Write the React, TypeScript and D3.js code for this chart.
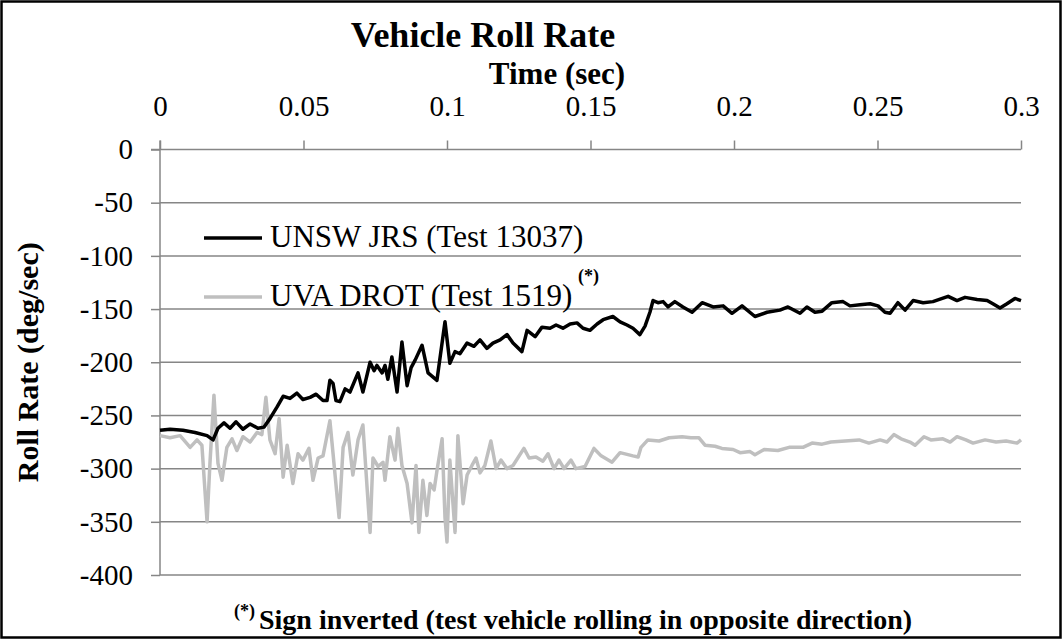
import React, { useEffect, useRef } from "react";
import * as d3 from "d3";

// UNSW JRS (Test 13037)
const unswTime = [0, 0.0035, 0.008, 0.0122, 0.0164, 0.0185, 0.0202, 0.0223, 0.0244, 0.0265, 0.0289, 0.0314, 0.0341, 0.0362, 0.0383, 0.0408, 0.0429, 0.0453, 0.0477, 0.0498, 0.0523, 0.0544, 0.0568, 0.0582, 0.0592, 0.0603, 0.0613, 0.0627, 0.0645, 0.0662, 0.069, 0.0707, 0.0732, 0.0746, 0.0756, 0.0774, 0.0784, 0.0794, 0.0808, 0.0826, 0.0843, 0.0861, 0.0875, 0.0889, 0.0913, 0.0934, 0.0965, 0.0993, 0.101, 0.1028, 0.1045, 0.107, 0.1094, 0.1115, 0.1139, 0.116, 0.1185, 0.1209, 0.123, 0.1261, 0.1279, 0.1307, 0.1331, 0.1359, 0.138, 0.1404, 0.1429, 0.1453, 0.1474, 0.1498, 0.1523, 0.1544, 0.1578, 0.1603, 0.1627, 0.1648, 0.1672, 0.169, 0.1707, 0.1718, 0.1735, 0.1753, 0.177, 0.1794, 0.1822, 0.1854, 0.1889, 0.1927, 0.1962, 0.1993, 0.2028, 0.2073, 0.2115, 0.216, 0.2188, 0.223, 0.2254, 0.2282, 0.2307, 0.2341, 0.238, 0.2404, 0.2439, 0.2474, 0.2502, 0.2526, 0.2544, 0.2571, 0.2596, 0.2624, 0.2659, 0.2693, 0.2746, 0.2777, 0.2805, 0.2847, 0.2882, 0.2902, 0.2927, 0.2951, 0.2979, 0.3];
const unswRate = [-264, -263, -264, -266, -269, -273, -262, -257, -262, -256, -263, -258, -262, -261, -253, -242, -232, -234, -229, -235, -233, -230, -236, -236, -217, -220, -236, -237, -225, -228, -210, -228, -200, -208, -203, -210, -203, -216, -195, -228, -181, -222, -205, -198, -184, -210, -217, -162, -201, -190, -192, -182, -185, -179, -187, -182, -179, -174, -182, -190, -170, -176, -167, -168, -165, -168, -164, -163, -168, -170, -164, -160, -157, -162, -165, -168, -174, -166, -153, -142, -144, -143, -148, -143, -148, -153, -144, -148, -147, -154, -147, -157, -153, -151, -148, -154, -148, -153, -152, -144, -143, -147, -146, -145, -147, -153, -154, -144, -151, -142, -144, -143, -138, -142, -139, -141, -142, -145, -149, -145, -140, -142];

// UVA DROT (Test 1519), sign inverted
const uvaTime = [0, 0.0035, 0.007, 0.0105, 0.0129, 0.0146, 0.0164, 0.0174, 0.0188, 0.0202, 0.0216, 0.0233, 0.0251, 0.0268, 0.0289, 0.0314, 0.0338, 0.0355, 0.0369, 0.0383, 0.0401, 0.0415, 0.0429, 0.0443, 0.0463, 0.0481, 0.0498, 0.0519, 0.0533, 0.0551, 0.0568, 0.0592, 0.0603, 0.0624, 0.0638, 0.0655, 0.0672, 0.069, 0.0707, 0.0732, 0.0742, 0.076, 0.0777, 0.0784, 0.0801, 0.0819, 0.0829, 0.0843, 0.0861, 0.0878, 0.0892, 0.0902, 0.0916, 0.093, 0.0941, 0.0955, 0.0965, 0.0983, 0.0993, 0.1, 0.101, 0.1028, 0.1038, 0.1056, 0.107, 0.1087, 0.1101, 0.1115, 0.1132, 0.1153, 0.1171, 0.1188, 0.1209, 0.123, 0.1268, 0.1286, 0.131, 0.1334, 0.1352, 0.1373, 0.139, 0.1408, 0.1432, 0.1449, 0.1481, 0.1512, 0.1537, 0.1575, 0.1603, 0.1648, 0.1666, 0.1676, 0.17, 0.1739, 0.1774, 0.1819, 0.185, 0.1878, 0.1899, 0.1934, 0.1958, 0.1997, 0.2021, 0.2056, 0.2073, 0.2105, 0.2153, 0.2192, 0.224, 0.2272, 0.2307, 0.2338, 0.2387, 0.2436, 0.247, 0.2509, 0.2533, 0.2557, 0.2582, 0.2613, 0.2631, 0.2662, 0.2686, 0.2728, 0.2753, 0.2777, 0.2808, 0.2833, 0.2875, 0.2913, 0.2948, 0.2986, 0.3];
const uvaRate = [-269, -271, -269, -280, -273, -278, -350, -295, -231, -295, -311, -280, -272, -283, -270, -275, -266, -268, -233, -273, -286, -253, -308, -278, -314, -286, -292, -281, -311, -290, -288, -255, -286, -346, -280, -266, -306, -273, -259, -360, -290, -298, -294, -311, -270, -292, -262, -297, -314, -351, -297, -360, -311, -344, -314, -320, -302, -272, -346, -369, -292, -360, -269, -333, -306, -297, -290, -304, -297, -274, -300, -292, -300, -297, -281, -290, -289, -293, -286, -300, -292, -300, -292, -300, -298, -281, -288, -294, -285, -288, -289, -280, -273, -274, -271, -270, -271, -271, -278, -279, -281, -282, -285, -284, -287, -282, -283, -280, -280, -276, -277, -275, -274, -273, -276, -273, -275, -268, -272, -275, -278, -270, -273, -272, -275, -270, -273, -276, -273, -275, -274, -276, -273];

const xTicks = [0, 0.05, 0.1, 0.15, 0.2, 0.25, 0.3];
const yTicks = [0, -50, -100, -150, -200, -250, -300, -350, -400];
const seriesNames = ["UNSW JRS (Test 13037)", "UVA DROT (Test 1519)"];
const seriesColors = ["#000000", "#bfbfbf"];

const FONT = "'Liberation Serif', 'Times New Roman', serif";

const App = () => {
    const svgRef = useRef(null);

    useEffect(() => {
        const width = 1062, height = 639;
        const left = 160, right = 1021, top = 149.5, bottom = 575;

        const svg = d3.select(svgRef.current)
            .attr("width", width)
            .attr("height", height);

        svg.selectAll("*").remove();

        svg.append("rect")
            .attr("x", 1.5).attr("y", 1.5)
            .attr("width", width - 3).attr("height", height - 3)
            .attr("fill", "#fff")
            .attr("stroke", "#000")
            .attr("stroke-width", 2.5);

        const x = d3.scaleLinear().domain([0, 0.3]).range([left, right]);
        const y = d3.scaleLinear().domain([0, -400]).range([top, bottom]);

        // gridlines
        svg.append("g")
            .selectAll("line")
            .data(yTicks.slice(1))
            .enter()
            .append("line")
            .attr("x1", left).attr("x2", right)
            .attr("y1", d => y(d)).attr("y2", d => y(d))
            .attr("stroke", "#868686")
            .attr("stroke-width", 1.5);

        // y axis
        const yAxis = svg.append("g")
            .attr("transform", `translate(${left},0)`)
            .call(d3.axisLeft(y).tickValues(yTicks).tickSize(9));
        yAxis.select(".domain").attr("stroke", "#868686").attr("stroke-width", 1.5)
            .attr("d", `M0,${top - 9}V${bottom}`);
        yAxis.selectAll(".tick line").attr("stroke", "#868686").attr("stroke-width", 1.5);
        yAxis.selectAll(".tick text")
            .attr("x", -27)
            .attr("font-family", FONT)
            .attr("font-size", 29)
            .attr("fill", "#000")
            .text(d => String(d));

        // x axis (top)
        const xAxis = svg.append("g")
            .attr("transform", `translate(0,${top})`)
            .call(d3.axisTop(x).tickValues(xTicks).tickSize(9).tickFormat(d => String(d)));
        xAxis.select(".domain").attr("stroke", "#868686").attr("stroke-width", 1.5)
            .attr("d", `M${left - 9},0H${right}`);
        xAxis.selectAll(".tick line").attr("stroke", "#868686").attr("stroke-width", 1.5);
        xAxis.selectAll(".tick text")
            .attr("y", -34)
            .attr("font-family", FONT)
            .attr("font-size", 29)
            .attr("fill", "#000");

        const line = d3.line().x(d => x(d[0])).y(d => y(d[1]));

        const series = [
            { pts: d3.zip(uvaTime, uvaRate), color: seriesColors[1] },
            { pts: d3.zip(unswTime, unswRate), color: seriesColors[0] }
        ];

        series.forEach(s => {
            svg.append("path")
                .datum(s.pts)
                .attr("fill", "none")
                .attr("stroke", s.color)
                .attr("stroke-width", 3.5)
                .attr("stroke-linejoin", "round")
                .attr("d", line);
        });

        // titles
        svg.append("text")
            .attr("x", 483).attr("y", 47)
            .attr("text-anchor", "middle")
            .attr("font-family", FONT)
            .attr("font-weight", "bold")
            .attr("font-size", 36)
            .text("Vehicle Roll Rate");

        svg.append("text")
            .attr("x", 557).attr("y", 84)
            .attr("text-anchor", "middle")
            .attr("font-family", FONT)
            .attr("font-weight", "bold")
            .attr("font-size", 31)
            .text("Time (sec)");

        svg.append("text")
            .attr("transform", `translate(38,${(top + bottom) / 2}) rotate(-90)`)
            .attr("text-anchor", "middle")
            .attr("font-family", FONT)
            .attr("font-weight", "bold")
            .attr("font-size", 30)
            .text("Roll Rate (deg/sec)");

        // legend
        const legendY = [238, 297];
        seriesNames.forEach((name, i) => {
            svg.append("line")
                .attr("x1", 204).attr("x2", 262)
                .attr("y1", legendY[i]).attr("y2", legendY[i])
                .attr("stroke", seriesColors[i])
                .attr("stroke-width", 3.5);
            svg.append("text")
                .attr("x", 270).attr("y", legendY[i] + 9)
                .attr("font-family", FONT)
                .attr("font-size", 31)
                .text(name);
        });
        svg.append("text")
            .attr("x", 578).attr("y", 282)
            .attr("font-family", FONT)
            .attr("font-weight", "bold")
            .attr("font-size", 18)
            .text("(*)");

        // footnote
        const foot = svg.append("text")
            .attr("x", 234).attr("y", 629)
            .attr("font-family", FONT)
            .attr("font-weight", "bold");
        foot.append("tspan").attr("font-size", 18).attr("dy", -12).text("(*)");
        foot.append("tspan").attr("font-size", 28).attr("dy", 12).attr("dx", 4)
            .text("Sign inverted (test vehicle rolling in opposite direction)");
    }, []);

    return (
        <svg ref={svgRef} style={{ position: "absolute", left: 0, top: 0 }}></svg>
    );
};

export default App;
